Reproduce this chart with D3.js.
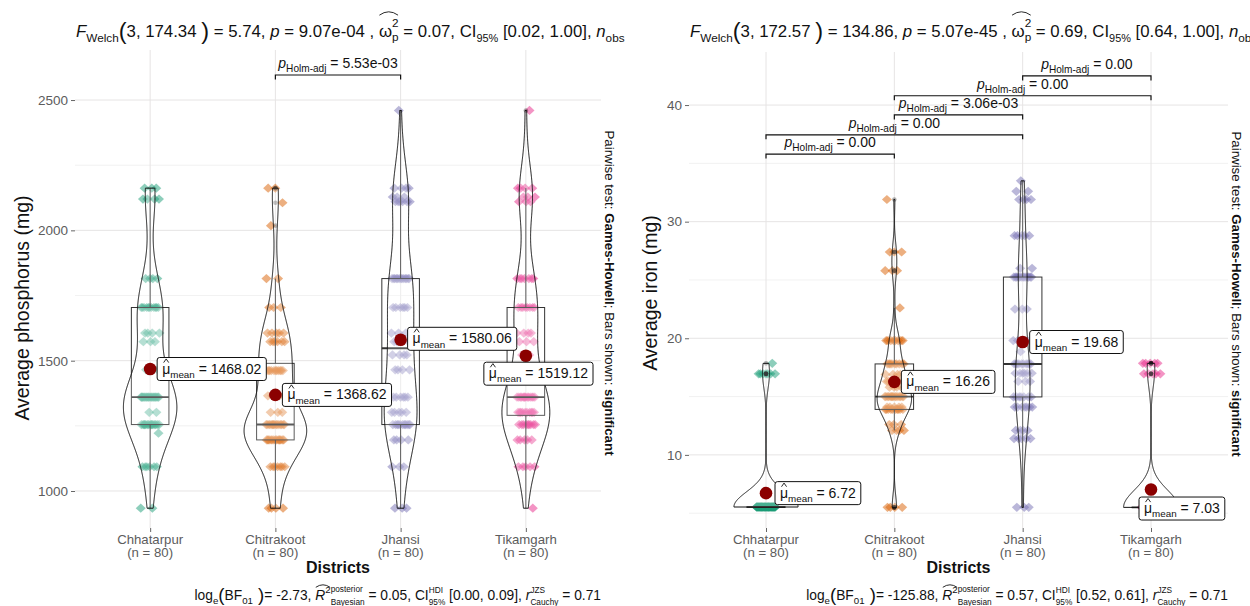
<!DOCTYPE html>
<html><head><meta charset="utf-8">
<script src="https://cdn.jsdelivr.net/npm/d3@7"></script>
<style>
body{margin:0;background:#fff}
svg{display:block;font-family:"Liberation Sans",Arial,Helvetica,sans-serif}
</style>
</head><body>
<svg id="c" width="1250" height="606"></svg>
<script>
// ---------------- DATA ----------------
const districts = ["Chhatarpur", "Chitrakoot", "Jhansi", "Tikamgarh"];
const nLabels = ["(n = 80)", "(n = 80)", "(n = 80)", "(n = 80)"];
const colors = ["#1B9E77", "#D95F02", "#7570B3", "#E7298A"];

// phosphorus: [value, count]
const phosChhatarpur = [[934,2],[1093,6],[1222,1],[1255,15],[1302,2],[1360,22],[1465,3],[1573,3],[1606,4],[1704,11],[1815,4],[2120,4],[2162,3]];
const phosChitrakoot = [[934,4],[1093,7],[1196,15],[1255,15],[1302,3],[1365,5],[1462,11],[1573,6],[1606,5],[1704,3],[1815,2],[2018,1],[2106,1],[2162,2]];
const phosJhansi = [[934,3],[1093,3],[1196,4],[1255,11],[1302,5],[1360,6],[1465,4],[1522,4],[1573,4],[1606,3],[1704,6],[1815,13],[2110,6],[2128,3],[2162,4],[2460,1]];
const phosTikamgarh = [[934,1],[1093,5],[1196,5],[1255,9],[1302,10],[1360,14],[1465,1],[1522,2],[1573,3],[1606,4],[1704,8],[1815,7],[2110,3],[2128,3],[2162,4],[2460,1]];
const phosMeans = [1468.02, 1368.62, 1580.06, 1519.12];
const phosTicks = [1000, 1500, 2000, 2500];
const phosMinor = [1250, 1750, 2250];
const phosPairs = [["Chitrakoot", "Jhansi", "5.53e-03"]];
const phosPairY = [2596];
const phosTitle = ["174.34", "5.74", "9.07e-04", "0.07", "[0.02, 1.00]", "320"];
const phosCaption = ["-2.73", "0.05", "[0.00, 0.09]", "0.71"];

// iron: [value, count]
const ironChhatarpur = [[5.53,72],[16.95,7],[17.85,1]];
const ironChitrakoot = [[5.5,4],[12.1,4],[12.6,3],[13.9,10],[14.1,5],[15.0,15],[15.8,4],[16.3,6],[16.9,4],[17.8,9],[19.8,8],[22.6,1],[25.8,3],[27.4,3],[31.9,1]];
const ironJhansi = [[5.5,3],[11.4,5],[12.1,4],[14.1,7],[14.97,7],[16.3,3],[17.0,6],[17.8,10],[18.85,1],[19.8,4],[22.5,3],[25.25,13],[26.0,2],[28.8,5],[31.9,4],[32.6,2],[33.5,1]];
const ironTikamgarh = [[5.5,70],[16.95,5],[17.85,5]];
const ironMeans = [6.72, 16.26, 19.68, 7.03];
const ironTicks = [10, 20, 30, 40];
const ironMinor = [5, 15, 25, 35];
const ironPairs = [["Chhatarpur","Chitrakoot","0.00"],["Chhatarpur","Jhansi","0.00"],["Chitrakoot","Jhansi","3.06e-03"],["Chitrakoot","Tikamgarh","0.00"],["Jhansi","Tikamgarh","0.00"]];
const ironPairY = [35.8, 37.45, 39.15, 40.8, 42.5];
const ironTitle = ["172.57", "134.86", "5.07e-45", "0.69", "[0.64, 1.00]", "320"];
const ironCaption = ["-125.88", "0.57", "[0.52, 0.61]", "0.71"];

// ---------------- LAYOUT ----------------
const phosLabelNudge = [[7,0],[7,0],[7,-1],[-42,18]];
const ironLabelNudge = [[9,0],[7,0],[7,0],[-12,19]];

const svg = d3.select("#c");
svg.append("defs").append("clipPath").attr("id","clipL")
  .append("rect").attr("x",0).attr("y",0).attr("width",625).attr("height",606);

function expand(pairs){ const o=[]; pairs.forEach(([v,c])=>{ for(let i=0;i<c;i++) o.push(v); }); return o.sort(d3.ascending); }
function bwNrd0(x){
  const s = x.slice().sort(d3.ascending);
  const sd = d3.deviation(s);
  const iqr = d3.quantileSorted(s,0.75) - d3.quantileSorted(s,0.25);
  let lo = Math.min(sd, iqr/1.34);
  if (!lo) lo = sd || Math.abs(s[0]) || 1;
  return 0.9*lo*Math.pow(s.length,-0.2);
}
function kde(x,bw,lo,hi,m){
  const out=[];
  for(let i=0;i<m;i++){
    const t = lo+(hi-lo)*i/(m-1); let s=0;
    for(const v of x){ const z=(t-v)/bw; s+=Math.exp(-0.5*z*z); }
    out.push([t, s/(x.length*bw*Math.sqrt(2*Math.PI))]);
  }
  return out;
}
function addText(g,x,y,size,str,o){
  const t = g.append("text").attr("x",x).attr("y",y).attr("font-size",size)
    .attr("xml:space","preserve").style("white-space","pre").attr("fill", (o&&o.fill)||"#111").text(str);
  if(o&&o.it) t.attr("font-style","italic");
  if(o&&o.b) t.attr("font-weight","bold");
  return t;
}
function rich(parent, segs, opt){
  const base = opt.size, g = parent.append("g");
  let cx = 0, pend = null; const hats = [];
  segs.forEach(s=>{
    if (s.hat) pend = {x0: cx, left: s.hat, top: s.top, h: s.h, kind: s.kind};
    if (s.stack){
      let w=0;
      s.stack.forEach(st=>{
        const t = addText(g, cx, (st.dy||0)*base, base*(st.s||0.7), st.t, {it:st.it, fill:opt.fill});
        w = Math.max(w, t.node().getComputedTextLength());
      });
      cx += w;
    } else {
      const t = addText(g, cx, (s.dy||0)*base, base*(s.s||1), s.t, {it:s.it, b:s.b, fill:opt.fill});
      cx += t.node().getComputedTextLength();
    }
    if (pend){ pend.left--; if(pend.left===0){ hats.push({...pend, x1: cx}); pend=null; } }
  });
  hats.forEach(h=>{
    const yb = -h.top*base, m = (h.x0+h.x1)/2;
    const d = h.kind==="caret"
      ? `M${h.x0+1.5},${yb} L${m},${yb-h.h*base} L${h.x1-1.5},${yb}`
      : `M${h.x0+0.5},${yb} Q${m},${yb-2*h.h*base} ${h.x1-0.5},${yb}`;
    g.append("path").attr("d",d).attr("fill","none").attr("stroke",opt.fill||"#111").attr("stroke-width",0.9);
  });
  const dx = opt.anchor==="end" ? -cx : opt.anchor==="middle" ? -cx/2 : 0;
  g.attr("transform",`translate(${opt.x+dx},${opt.y})`);
  return {g, w: cx};
}
function titleSegs(a){
  return [
    {t:"F", it:1},{t:"Welch", s:.7, dy:.3},{t:"(", s:1.4, dy:.1},{t:"3, "+a[0]+" "},{t:")", s:1.4, dy:.1},
    {t:" = "+a[1]+", "},{t:"p", it:1},{t:" = "+a[2]+" , "},
    {t:"ω", hat:2, top:1.3, h:.2},{stack:[{t:"2", s:.7, dy:-.62},{t:"p", s:.7, dy:.22}]},
    {t:" = "+a[3]+", CI"},{t:"95%", s:.65, dy:.3},{t:" "+a[4]+", "},{t:"n", it:1},{t:"obs", s:.7, dy:.3},{t:" = "+a[5]}
  ];
}
function captionSegs(a){
  return [
    {t:"log"},{t:"e", s:.7, dy:.3},{t:"(", s:1.35, dy:.1},{t:"BF"},{t:"01", s:.7, dy:.3},{t:" )", s:1.35, dy:.1},
    {t:"= "+a[0]+", "},{t:"R", it:1, hat:2, top:.92, h:.18},{t:"2", s:.7, dy:-.5},
    {stack:[{t:"posterior", s:.6, dy:-.55},{t:"Bayesian", s:.6, dy:.38}]},
    {t:" = "+a[1]+", CI"},{stack:[{t:"HDI", s:.6, dy:-.5},{t:"95%", s:.6, dy:.38}]},
    {t:" "+a[2]+", "},{t:"r", it:1},{stack:[{t:"JZS", s:.6, dy:-.5},{t:"Cauchy", s:.6, dy:.38}]},
    {t:" = "+a[3]}
  ];
}

const panels = [
  {clip:"clipL", left:75, right:601, top:50, bottom:528, domain:[858,2692], ticks:phosTicks, minor:phosMinor,
   data:[phosChhatarpur,phosChitrakoot,phosJhansi,phosTikamgarh], means:phosMeans, nudge:phosLabelNudge,
   pairs:phosPairs, pairY:phosPairY, yTitle:"Average phosphorus (mg)", yTitleX:29, yTitleY:308,
   title:phosTitle, caption:phosCaption},
  {clip:null, left:689, right:1228, top:52, bottom:528, domain:[3.73,44.55], ticks:ironTicks, minor:ironMinor,
   data:[ironChhatarpur,ironChitrakoot,ironJhansi,ironTikamgarh], means:ironMeans, nudge:ironLabelNudge,
   pairs:ironPairs, pairY:ironPairY, yTitle:"Average iron (mg)", yTitleX:657, yTitleY:293,
   title:ironTitle, caption:ironCaption}
];

function drawPanel(P){
  const root = svg.append("g");
  if (P.clip) root.attr("clip-path",`url(#${P.clip})`);
  const x = d3.scalePoint().domain(districts).range([P.left,P.right]).padding(0.6);
  const step = x.step();
  const y = d3.scaleLinear().domain(P.domain).range([P.bottom,P.top]);

  // grid
  const grid = root.append("g");
  grid.selectAll("line.mn").data(P.minor).join("line").attr("class","mn")
    .attr("x1",P.left).attr("x2",P.right).attr("y1",d=>y(d)).attr("y2",d=>y(d))
    .attr("stroke","#eeeeee").attr("stroke-width",0.8);
  grid.selectAll("line.mj").data(P.ticks).join("line").attr("class","mj")
    .attr("x1",P.left).attr("x2",P.right).attr("y1",d=>y(d)).attr("y2",d=>y(d))
    .attr("stroke","#e6e4e4").attr("stroke-width",1);
  grid.selectAll("line.vx").data(districts).join("line").attr("class","vx")
    .attr("x1",d=>x(d)).attr("x2",d=>x(d)).attr("y1",P.top).attr("y2",P.bottom)
    .attr("stroke","#e6e4e4").attr("stroke-width",1);

  // axes
  const ya = root.append("g").attr("transform",`translate(${P.left},0)`)
    .call(d3.axisLeft(y).tickValues(P.ticks).tickFormat(d3.format("d")).tickSize(4).tickPadding(3));
  ya.select(".domain").remove();
  ya.selectAll("line").attr("stroke","#666");
  ya.selectAll("text").attr("font-size",13.5).attr("fill","#5c5c5c")
    .attr("font-family",'"Liberation Sans",Arial,sans-serif');
  const xa = root.append("g").attr("transform",`translate(0,${P.bottom})`)
    .call(d3.axisBottom(x).tickSize(4).tickFormat(""));
  xa.select(".domain").remove();
  xa.selectAll("line").attr("stroke","#666");
  districts.forEach((d,i)=>{
    root.append("text").attr("x",x(d)).attr("y",543.5).attr("text-anchor","middle")
      .attr("font-size",13.2).attr("fill","#5c5c5c").text(d);
    root.append("text").attr("x",x(d)).attr("y",556.5).attr("text-anchor","middle")
      .attr("font-size",13.2).attr("fill","#5c5c5c").text(nLabels[i]);
  });

  // data prep
  const groups = P.data.map(pairs=>{
    const v = expand(pairs);
    const bw = bwNrd0(v);
    const dens = kde(v, bw, v[0], v[v.length-1], 512);
    return {v, dens};
  });
  const maxD = d3.max(groups, g=>d3.max(g.dens, d=>d[1]));

  // points
  const ptG = root.append("g");
  groups.forEach((G,i)=>{
    const cx = x(districts[i]);
    G.v.forEach((val,k)=>{
      const jx = (((k*0.6180339887 + 0.29*i) % 1) - 0.5) * 2 * 0.075 * step;
      const px = cx + jx, py = y(val);
      ptG.append("path").attr("d",`M${px},${py-4.6}L${px+5},${py}L${px},${py+4.6}L${px-5},${py}Z`)
        .attr("fill",colors[i]).attr("fill-opacity",0.5);
    });
  });

  // boxplots
  const bxG = root.append("g");
  groups.forEach((G,i)=>{
    const cx = x(districts[i]), hw = 0.15*step, v = G.v;
    const q1 = d3.quantileSorted(v,0.25), md = d3.quantileSorted(v,0.5), q3 = d3.quantileSorted(v,0.75);
    const iqr = q3-q1;
    const inside = v.filter(d=>d>=q1-1.5*iqr && d<=q3+1.5*iqr);
    const lw = d3.min(inside), uw = d3.max(inside);
    const outl = v.filter(d=>d<q1-1.5*iqr || d>q3+1.5*iqr);
    bxG.append("line").attr("x1",cx).attr("x2",cx).attr("y1",y(q3)).attr("y2",y(uw)).attr("stroke","#333").attr("stroke-width",1);
    bxG.append("line").attr("x1",cx).attr("x2",cx).attr("y1",y(q1)).attr("y2",y(lw)).attr("stroke","#333").attr("stroke-width",1);
    bxG.append("rect").attr("x",cx-hw).attr("width",2*hw).attr("y",y(q3)).attr("height",Math.max(0.01,y(q1)-y(q3)))
      .attr("fill","#fff").attr("fill-opacity",0.2).attr("stroke","#333").attr("stroke-width",1);
    bxG.append("line").attr("x1",cx-hw).attr("x2",cx+hw).attr("y1",y(md)).attr("y2",y(md)).attr("stroke","#333").attr("stroke-width",1.9);
    outl.forEach(o=>bxG.append("circle").attr("cx",cx).attr("cy",y(o)).attr("r",2.3).attr("fill","#000").attr("fill-opacity",0.3));
  });

  // violins
  const vG = root.append("g");
  groups.forEach((G,i)=>{
    const cx = x(districts[i]), W = 0.25*step;
    const right = G.dens.map(([t,d])=>[cx + d/maxD*W, y(t)]);
    const left = G.dens.slice().reverse().map(([t,d])=>[cx - d/maxD*W, y(t)]);
    vG.append("path").attr("d", d3.line()(right.concat(left))+"Z")
      .attr("fill","#fff").attr("fill-opacity",0.2).attr("stroke","#111").attr("stroke-width",1);
  });

  // means
  const mG = root.append("g");
  P.means.forEach((m,i)=>{
    mG.append("circle").attr("cx",x(districts[i])).attr("cy",y(m)).attr("r",6.3).attr("fill","#8B0000");
  });

  // brackets
  const bG = root.append("g");
  P.pairs.forEach((pr,j)=>{
    const x1 = x(pr[0]), x2 = x(pr[1]), yy = y(P.pairY[j]);
    bG.append("path").attr("d",`M${x1},${yy+4.5}V${yy}H${x2}V${yy+4.5}`)
      .attr("fill","none").attr("stroke","#111").attr("stroke-width",1.2);
    rich(bG, [{t:"p", it:1},{t:"Holm-adj", s:.72, dy:.3},{t:" = "+pr[2]}],
      {size:14, x:(x1+x2)/2, y:yy-7, anchor:"middle"});
  });

  // mean labels
  const lG = root.append("g");
  P.means.forEach((m,i)=>{
    const cx = x(districts[i]), cy = y(m);
    const bx = cx + P.nudge[i][0], by = cy + P.nudge[i][1];
    const gg = lG.append("g");
    const rect = gg.append("rect");
    const r = rich(gg, [{t:"μ", hat:1, kind:"caret", top:.78, h:.26},{t:"mean", s:.7, dy:.3},{t:" = "+m.toFixed(2)}],
      {size:14, x:bx+5, y:by+4.5, anchor:"start"});
    rect.attr("x",bx).attr("y",by-11.5).attr("width",r.w+10).attr("height",23).attr("rx",2.5)
      .attr("fill","#fff").attr("stroke","#111").attr("stroke-width",1);
  });

  // titles
  const midX = (P.left+P.right)/2, midY = (P.top+P.bottom)/2;
  root.append("text").attr("transform",`translate(${P.yTitleX},${P.yTitleY}) rotate(-90)`)
    .attr("text-anchor","middle").attr("font-size",19.5).attr("fill","#111").text(P.yTitle);
  root.append("text").attr("x",midX).attr("y",573).attr("text-anchor","middle")
    .attr("font-size",16).attr("font-weight","bold").attr("fill","#111").text("Districts");
  const st = root.append("text").attr("transform",`translate(${P.right+4},${midY+4}) rotate(90)`)
    .attr("text-anchor","middle").attr("font-size",13.3).attr("fill","#111");
  st.append("tspan").text("Pairwise test: ");
  st.append("tspan").attr("font-weight","bold").text("Games-Howell");
  st.append("tspan").text("; Bars shown: ");
  st.append("tspan").attr("font-weight","bold").text("significant");

  rich(root, titleSegs(P.title), {size:16.8, x:P.left+1, y:37, anchor:"start"});
  rich(root, captionSegs(P.caption), {size:13.8, x:P.right, y:600, anchor:"end"});
}
panels.forEach(drawPanel);
</script>
</body></html>
